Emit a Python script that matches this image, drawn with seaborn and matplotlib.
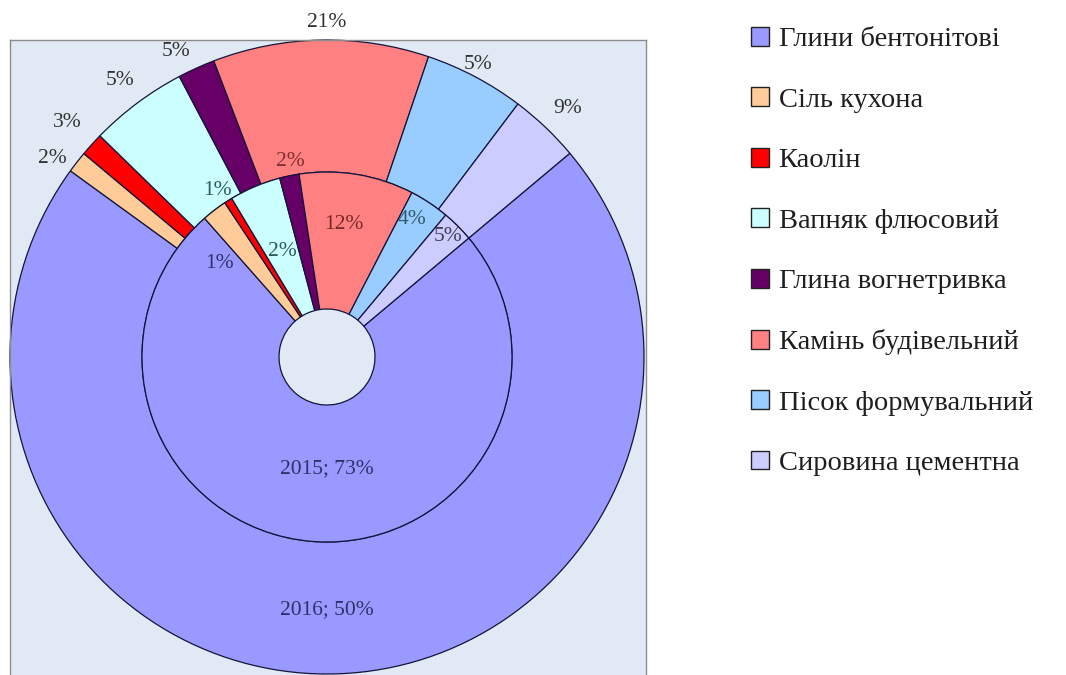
import numpy as np
import pandas as pd
import matplotlib
matplotlib.use("Agg")
import matplotlib.pyplot as plt
import seaborn as sns

# Categories (legend order = slice order, clockwise)
categories = [
    "Глини бентонітові",
    "Сіль кухона",
    "Каолін",
    "Вапняк флюсовий",
    "Глина вогнетривка",
    "Камінь будівельний",
    "Пісок формувальний",
    "Сировина цементна",
]

# Slice shares as drawn in the picture (inner ring = 2015, outer ring = 2016)
share_2015 = [74.6, 2.2, 0.7, 4.5, 1.7, 10.0, 3.5, 2.8]
share_2016 = [71.1, 1.1, 1.2, 5.0, 1.9, 11.0, 5.1, 3.6]

# Data label texts exactly as printed on the chart
labels_2015 = ["2015; 73%", "1%", "1%", "2%", "2%", "12%", "4%", "5%"]
labels_2016 = ["2016; 50%", "2%", "3%", "5%", "5%", "21%", "5%", "9%"]

slice_colors = ["#9999FF", "#FFCC99", "#FF0000", "#CCFFFF",
                "#660066", "#FF8080", "#99CCFF", "#CCCCFF"]

# --- layout (pixels) --------------------------------------------------------
W, H = 1066, 675
CX, CY = 327, 675 - 357          # ring centre in axes data units (= pixels)
R_OUT, R_MID, R_HOLE = 317, 185, 48
START = 40                        # first slice starts 50 deg right of 12 o'clock

# label radius (px) and angular nudge (deg, clockwise) per slice
lab16_r = [253, 339, 350, 345, 341, 335, 329, 346]
lab16_da = [2, -2, 0, 0, -2, 1, -0.6, 0.5]
lab15_r = [112, 142, 199, 115, 199, 134, 162, 171]
lab15_da = [-4, -11.6, -1, 0, 1, -2, -2, 0]
lab15_col = ["#30306a", "#30306a", "#2f5a5a", "#2f5a5a",
             "#803030", "#7a2828", "#2f5a6a", "#404050"]
lab16_col = ["#30306a", "#333333", "#333333", "#333333",
             "#333333", "#333333", "#333333", "#333333"]

sns.set_theme(style="white")
plt.rcParams["font.family"] = ["Liberation Serif", "DejaVu Serif"]

df = pd.DataFrame({"category": categories, "y2015": share_2015, "y2016": share_2016})
palette = sns.color_palette(slice_colors)

fig = plt.figure(figsize=(W / 100, H / 100), dpi=100)
ax = fig.add_axes([10 / W, 0, 636 / W, 635 / H])
ax.set_facecolor("#e1eaf4")

edge = dict(edgecolor="#14143a", linewidth=0.9)
outer, _ = ax.pie(df["y2016"], colors=palette, radius=R_OUT, center=(CX, CY),
                  startangle=START, counterclock=False,
                  wedgeprops=dict(width=R_OUT - R_MID, **edge), frame=True)
inner, _ = ax.pie(df["y2015"], colors=palette, radius=R_MID, center=(CX, CY),
                  startangle=START, counterclock=False,
                  wedgeprops=dict(width=R_MID - R_HOLE, **edge), frame=True)
for w in list(outer) + list(inner):
    w.set_clip_on(False)
ax.set_xlim(10, 646)
ax.set_ylim(0, 635)
ax.set_aspect("equal")
ax.set_xticks([])
ax.set_yticks([])
for s in ax.spines.values():
    s.set_visible(True)
    s.set_color("#8c8c8c")
    s.set_linewidth(1.0)
ax.spines["bottom"].set_visible(False)


def put_labels(values, texts, radii, nudges, cols):
    cum = np.cumsum([0] + list(values))
    total = cum[-1]
    for i, t in enumerate(texts):
        mid = (cum[i] + cum[i + 1]) / 2 / total * 360 + (90 - START) + nudges[i]
        a = np.deg2rad(90 - mid)
        ax.text(CX + radii[i] * np.cos(a), CY + radii[i] * np.sin(a), t,
                ha="center", va="center", fontsize=15.5, color=cols[i],
                clip_on=False)


put_labels(df["y2016"], labels_2016, lab16_r, lab16_da, lab16_col)
put_labels(df["y2015"], labels_2015, lab15_r, lab15_da, lab15_col)

handles = [plt.Rectangle((0, 0), 1, 1, facecolor=c, edgecolor="#222222", linewidth=1)
           for c in slice_colors]
fig.legend(handles, categories, loc="upper left",
           bbox_to_anchor=(751 / W, 1 - 27 / H), frameon=False, labelcolor="#1e1e1e",
           fontsize=20.5, handlelength=0.64, handleheight=0.64,
           handletextpad=0.33, labelspacing=1.23, borderpad=0, borderaxespad=0)

fig.savefig("out.png", dpi=100)
